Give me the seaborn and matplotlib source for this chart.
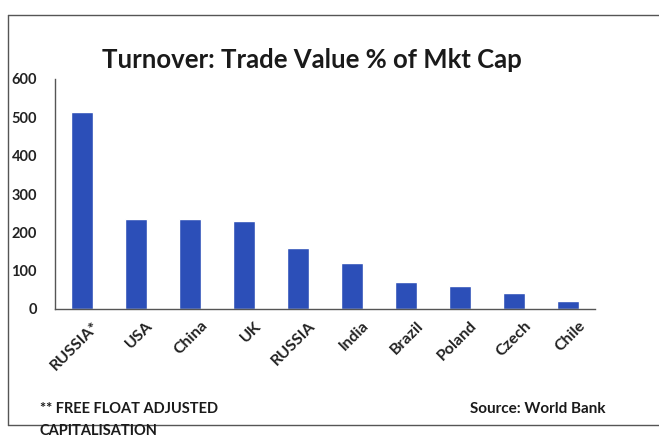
import matplotlib
matplotlib.use("Agg")
import matplotlib.pyplot as plt
import matplotlib.transforms as mtransforms
from matplotlib.lines import Line2D
import seaborn as sns
import pandas as pd

pays = ["RUSSIA*", "USA", "China", "UK", "RUSSIA", "India",
        "Brazil", "Poland", "Czech", "Chile"]
turnover = [515, 235, 235, 230, 160, 120, 70, 60, 42, 22]
yticks = [0, 100, 200, 300, 400, 500, 600]

sns.set_theme(style="white")
plt.rcParams["font.family"] = ["Lato", "DejaVu Sans"]

df = pd.DataFrame({"pays": pays, "turnover": turnover})

W, H = 659, 438
fig = plt.figure(figsize=(W / 100, H / 100), dpi=100)
ax = fig.add_axes([55 / W, 1 - 309 / H, 540 / W, 230 / H])

sns.barplot(data=df, x="pays", y="turnover", color="#2C4FB8",
            saturation=1, width=0.4, ax=ax)

ax.set_ylim(0, 600)
ax.set_xlim(-0.5, len(pays) - 0.5)
ax.set_yticks(yticks)
ax.set_yticklabels([str(t) for t in yticks], fontsize=10.5, fontweight="bold",
                   color="#222222")
ax.set_xticks(range(len(pays)))
ax.set_xticklabels(pays, rotation=45, ha="right", rotation_mode="anchor",
                   fontsize=11.5, fontweight="bold", color="#222222")
ax.tick_params(axis="y", length=0, pad=13)
ax.tick_params(axis="x", length=0, pad=7)
# décalage des étiquettes vers la droite comme dans Excel
offset = mtransforms.ScaledTranslation(0.1, 0, fig.dpi_scale_trans)
for lab in ax.get_xticklabels():
    lab.set_transform(lab.get_transform() + offset)
ax.set_xlabel("")
ax.set_ylabel("")
for s in ["top", "right"]:
    ax.spines[s].set_visible(False)
for s in ["left", "bottom"]:
    ax.spines[s].set_color("#555555")
    ax.spines[s].set_linewidth(1)

fig.text(312 / W, 1 - 60 / H, "Turnover: Trade Value % of Mkt Cap",
         ha="center", va="center", fontsize=18.5, fontweight="bold",
         color="#1a1a1a")

fig.text(40 / W, 1 - 409 / H, "** FREE FLOAT ADJUSTED", ha="left",
         va="center", fontsize=10.5, fontweight="bold", color="#1a1a1a")
fig.text(40 / W, 1 - 431 / H, "CAPITALISATION", ha="left",
         va="center", fontsize=10.5, fontweight="bold", color="#1a1a1a")
fig.text(470 / W, 1 - 409 / H, "Source: World Bank", ha="left",
         va="center", fontsize=11, fontweight="bold", color="#1a1a1a")

# cadre autour du graphique
x0, x1 = 8 / W, 1.0
y0, y1 = 1 - 425 / H, 1 - 15 / H
for xs, ys in [([x0, x0], [y0, y1]), ([x0, x1], [y1, y1]), ([x0, x1], [y0, y0])]:
    fig.add_artist(Line2D(xs, ys, color="#555555", linewidth=1,
                          transform=fig.transFigure))

fig.savefig("out.png", dpi=100)
